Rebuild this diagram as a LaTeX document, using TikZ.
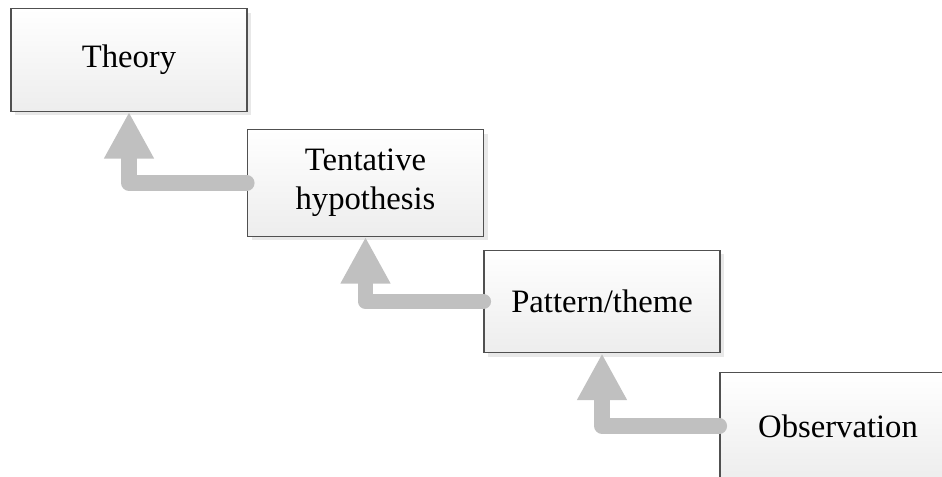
\documentclass[tikz,border=0pt]{standalone}
\usepackage{fontspec}
\setmainfont{Liberation Serif}
\usetikzlibrary{arrows.meta,shadows}
\definecolor{boxline}{HTML}{505050}
\definecolor{boxtop}{HTML}{FFFFFF}
\definecolor{boxbot}{HTML}{EDEDED}
\definecolor{shadowgray}{HTML}{E8E8E8}
\definecolor{arrowgray}{HTML}{C0C0C0}
\tikzset{
  stagebox/.style={draw=boxline, line width=0.9pt, top color=boxtop, bottom color=boxbot,
    minimum width=177pt, minimum height=77pt, inner sep=0pt, align=center,
    font=\fontsize{24.5}{29}\selectfont,
    drop shadow={shadow xshift=3pt, shadow yshift=-3pt, fill=shadowgray, opacity=1}},
  riser/.style={draw=arrowgray, line width=11.5pt, line cap=round, line join=round,
    -{Triangle[width=35pt,length=35pt]}}
}
\begin{document}
\begin{tikzpicture}[x=0.75pt,y=-0.75pt]
  \useasboundingbox (0,0) rectangle (942,477);
  \node[stagebox] (theory) at (129,60) {Theory};
  \node[stagebox, minimum height=80pt] (tent) at (365.5,183) {Tentative\\hypothesis};
  \node[stagebox] (pattern) at (602,301.5) {Pattern/theme};
  \node[stagebox, minimum height=80pt] (obs) at (838,426) {Observation};
  \draw[riser] (tent.west) -| (theory.south);
  \draw[riser] (pattern.west) -| (tent.south);
  \draw[riser] (obs.west) -| (pattern.south);
\end{tikzpicture}
\end{document}
